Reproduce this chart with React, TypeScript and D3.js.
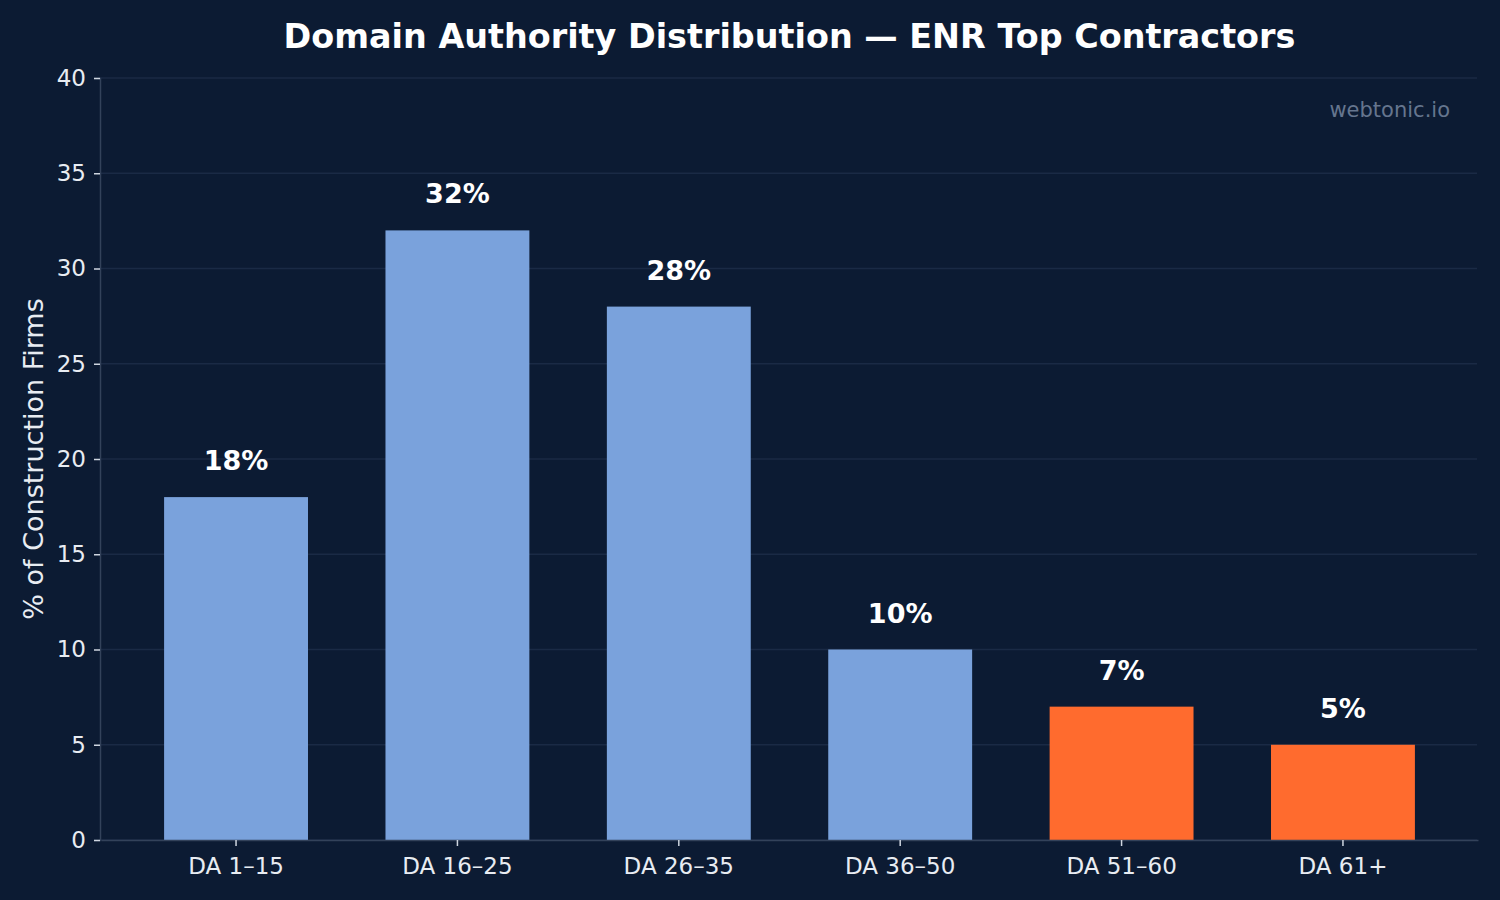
import React, { useEffect, useRef } from 'react';
import * as d3 from 'd3';

const categories = ['DA 1–15', 'DA 16–25', 'DA 26–35', 'DA 36–50', 'DA 51–60', 'DA 61+'];
const shares = [18, 32, 28, 10, 7, 5];
const highlighted = [false, false, false, false, true, true];
const yTicks = [0, 5, 10, 15, 20, 25, 30, 35, 40];

const W = 1500;
const H = 900;
const FONT = '"DejaVu Sans", sans-serif';
const BG = '#0c1b33';
const BLUE = '#7aa2dc';
const ORANGE = '#ff6b2e';

export default function App() {
  const svgRef = useRef<SVGSVGElement>(null);

  useEffect(() => {
    if (!svgRef.current) return;
    const svg = d3.select(svgRef.current);
    svg.selectAll('*').remove();

    const margin = { top: 78, right: 23, bottom: 60, left: 100 };
    const x0 = margin.left;
    const x1 = W - margin.right;
    const y0 = H - margin.bottom;
    const y1 = margin.top;

    svg.append('rect').attr('width', W).attr('height', H).attr('fill', BG);

    const x = d3.scaleBand<string>()
      .domain(categories)
      .range([x0 + 1, x1 + 1])
      .paddingInner(0.35)
      .paddingOuter(0.285);

    const y = d3.scaleLinear().domain([0, 40]).range([y0, y1]);

    // grid lines
    svg.append('g')
      .selectAll('line')
      .data(yTicks)
      .join('line')
      .attr('x1', x0)
      .attr('x2', x1)
      .attr('y1', d => y(d))
      .attr('y2', d => y(d))
      .attr('stroke', '#1a2a45')
      .attr('stroke-width', 1.5);

    // bars
    svg.append('g')
      .selectAll('rect')
      .data(shares)
      .join('rect')
      .attr('x', (_, i) => x(categories[i])!)
      .attr('y', d => y(d))
      .attr('width', x.bandwidth())
      .attr('height', d => y(0) - y(d))
      .attr('fill', (_, i) => (highlighted[i] ? ORANGE : BLUE));

    // value labels
    svg.append('g')
      .selectAll('text')
      .data(shares)
      .join('text')
      .attr('x', (_, i) => x(categories[i])! + x.bandwidth() / 2)
      .attr('y', d => y(d) - 27)
      .attr('text-anchor', 'middle')
      .attr('fill', '#ffffff')
      .attr('font-family', FONT)
      .attr('font-weight', 'bold')
      .attr('font-size', 27)
      .text(d => `${d}%`);

    // y axis
    const yAxis = svg.append('g')
      .attr('transform', `translate(${x0},0)`)
      .call(d3.axisLeft(y).tickValues(yTicks).tickSize(6).tickPadding(8));
    yAxis.select('.domain').attr('stroke', '#33425a').attr('stroke-width', 1.5);
    yAxis.selectAll('.tick line').attr('stroke', '#cfd6e0').attr('stroke-width', 1.5);
    yAxis.selectAll('.tick text')
      .attr('fill', '#e8ecf2')
      .attr('font-family', FONT)
      .attr('font-size', 23);

    // x axis
    const xAxis = svg.append('g')
      .attr('transform', `translate(0,${y0})`)
      .call(d3.axisBottom(x).tickSize(6).tickPadding(12).tickSizeOuter(0));
    xAxis.select('.domain').attr('stroke', '#33425a').attr('stroke-width', 1.5);
    xAxis.selectAll('.tick line').attr('stroke', '#cfd6e0').attr('stroke-width', 1.5);
    xAxis.selectAll('.tick text')
      .attr('fill', '#e8ecf2')
      .attr('font-family', FONT)
      .attr('font-size', 23);

    // y label
    svg.append('text')
      .attr('transform', `translate(43,${(y0 + y1) / 2}) rotate(-90)`)
      .attr('text-anchor', 'middle')
      .attr('fill', '#e8ecf2')
      .attr('font-family', FONT)
      .attr('font-size', 27)
      .text('% of Construction Firms');

    // title
    svg.append('text')
      .attr('x', (x0 + x1) / 2 + 1)
      .attr('y', 48)
      .attr('text-anchor', 'middle')
      .attr('fill', '#ffffff')
      .attr('font-family', FONT)
      .attr('font-weight', 'bold')
      .attr('font-size', 33.4)
      .text('Domain Authority Distribution — ENR Top Contractors');

    // watermark
    svg.append('text')
      .attr('x', 1450)
      .attr('y', 117)
      .attr('text-anchor', 'end')
      .attr('fill', '#65758e')
      .attr('font-family', FONT)
      .attr('font-size', 21)
      .text('webtonic.io');
  }, []);

  return (
    <div style={{ position: 'fixed', left: 0, top: 0 }}>
      <svg ref={svgRef} width={W} height={H} style={{ display: 'block' }} />
    </div>
  );
}
